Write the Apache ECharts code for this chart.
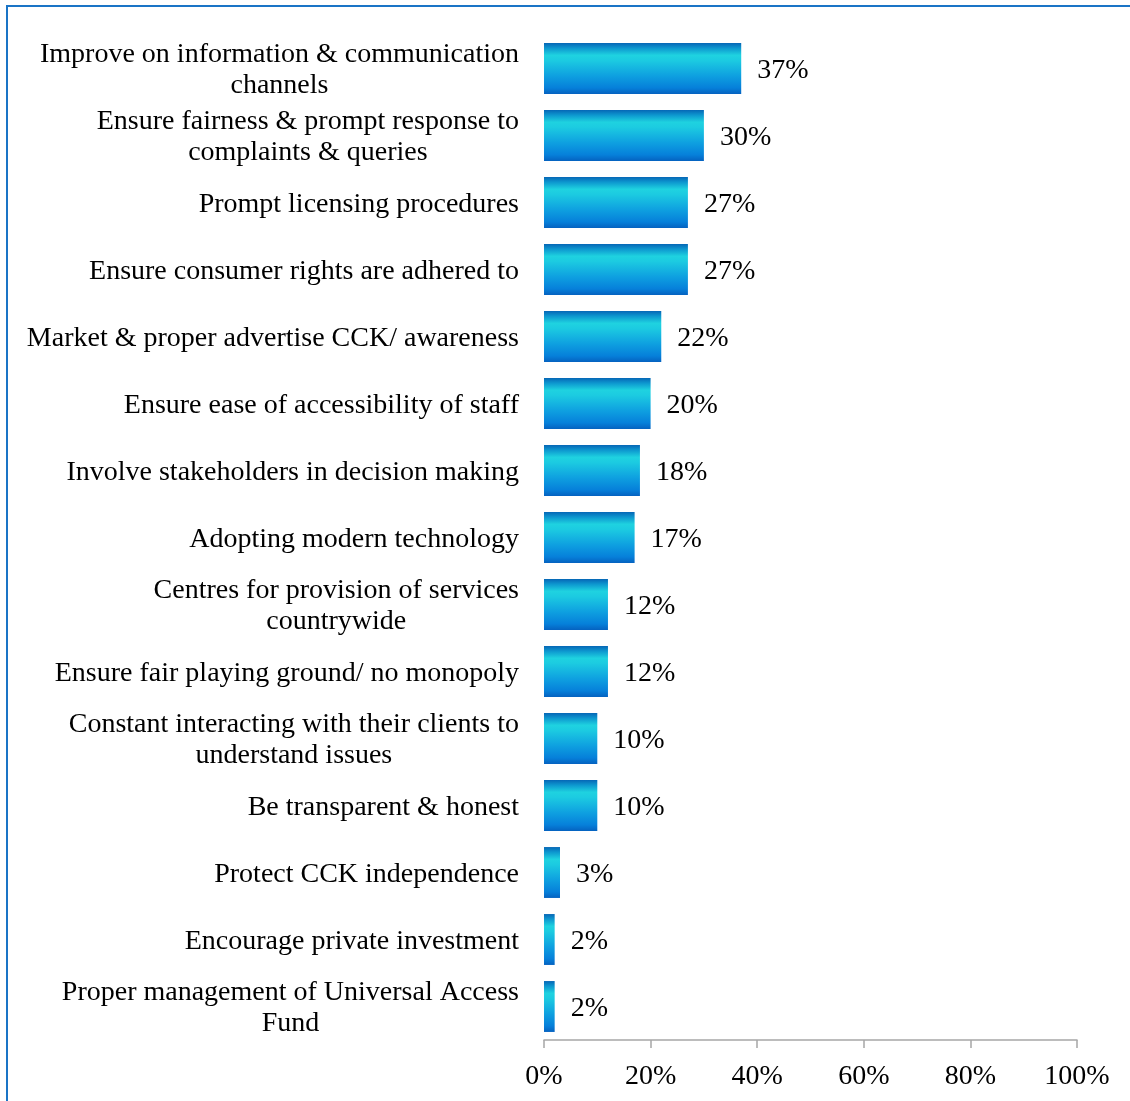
<!DOCTYPE html>
<html>
<head>
<meta charset="utf-8">
<script src="https://cdn.jsdelivr.net/npm/echarts@6/dist/echarts.min.js"></script>
<style>
  html, body { margin: 0; padding: 0; background: #ffffff; }
  #chart { width: 1130px; height: 1101px; }
</style>
</head>
<body>
<div id="chart"></div>
<script>
// Suggested improvements, listed top to bottom
const categories = [
  'Improve on information & communication\nchannels',
  'Ensure fairness & prompt response to\ncomplaints & queries',
  'Prompt licensing procedures',
  'Ensure consumer rights are adhered to',
  'Market & proper advertise CCK/ awareness',
  'Ensure ease of accessibility of staff',
  'Involve stakeholders in decision making',
  'Adopting modern technology',
  'Centres for provision of services\ncountrywide',
  'Ensure fair playing ground/ no monopoly',
  'Constant interacting with their clients to\nunderstand issues',
  'Be transparent & honest',
  'Protect CCK independence',
  'Encourage private investment',
  'Proper management of Universal Access\nFund'
];

// Share of respondents (%)
const shares = [37, 30, 27, 27, 22, 20, 18, 17, 12, 12, 10, 10, 3, 2, 2];

// Value axis ticks
const axisMin = 0;
const axisMax = 100;
const axisStep = 20;

const FONT = '"Liberation Serif", "DejaVu Serif", serif';
const FONT_SIZE = 28;
const TEXT_COLOR = '#000000';

const chart = echarts.init(document.getElementById('chart'), null, { renderer: 'canvas' });

const barFill = new echarts.graphic.LinearGradient(0, 0, 0, 1, [
  { offset: 0.00, color: '#0667b6' },
  { offset: 0.10, color: '#0d97cf' },
  { offset: 0.24, color: '#1fd2e0' },
  { offset: 0.34, color: '#1ccbe1' },
  { offset: 0.65, color: '#0e9fe0' },
  { offset: 0.88, color: '#0680da' },
  { offset: 1.00, color: '#0562c0' }
]);

chart.setOption({
  animation: false,
  backgroundColor: '#ffffff',
  graphic: [{
    type: 'rect',
    shape: { x: 7, y: 6, width: 1200, height: 1200 },
    style: { fill: 'none', stroke: '#1a74c6', lineWidth: 2 },
    silent: true
  }],
  grid: {
    left: 544,
    right: 53,
    top: 35,
    bottom: 61,
    containLabel: false
  },
  xAxis: {
    type: 'value',
    min: axisMin,
    max: axisMax,
    interval: axisStep,
    axisLine: { show: true, lineStyle: { color: '#a6a6a6', width: 1.5 } },
    axisTick: { show: true, length: 8, lineStyle: { color: '#a6a6a6', width: 1.5 } },
    splitLine: { show: false },
    axisLabel: {
      formatter: '{value}%',
      color: TEXT_COLOR,
      fontFamily: FONT,
      fontSize: FONT_SIZE,
      margin: 23
    }
  },
  yAxis: {
    type: 'category',
    data: categories,
    inverse: true,
    axisLine: { show: false },
    axisTick: { show: false },
    splitLine: { show: false },
    axisLabel: {
      interval: 0,
      hideOverlap: false,
      margin: 25,
      color: TEXT_COLOR,
      fontFamily: FONT,
      fontSize: FONT_SIZE,
      lineHeight: 31,
      align: 'right',
      padding: [4, 0, 0, 0],
      // each line centred within the label block, block right-aligned to the axis
      formatter: function (v) {
        return v.split('\n').map(function (s) { return '{c|' + s + '}'; }).join('\n');
      },
      rich: {
        c: {
          align: 'center',
          color: TEXT_COLOR,
          fontFamily: FONT,
          fontSize: FONT_SIZE,
          lineHeight: 31
        }
      }
    }
  },
  series: [{
    type: 'bar',
    data: shares,
    barCategoryGap: '24%',
    itemStyle: { color: barFill },
    label: {
      show: true,
      position: 'right',
      distance: 16,
      offset: [0, 2],
      formatter: '{c}%',
      color: TEXT_COLOR,
      fontFamily: FONT,
      fontSize: FONT_SIZE
    }
  }]
});
</script>
</body>
</html>
